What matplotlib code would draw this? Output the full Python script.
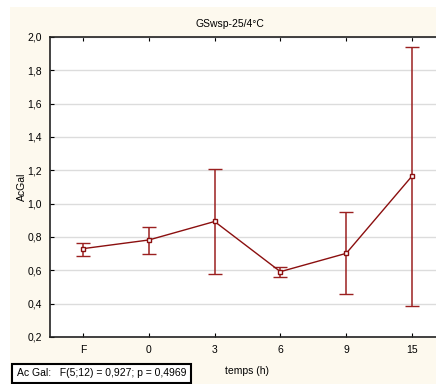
import matplotlib
matplotlib.use("Agg")
import matplotlib.pyplot as plt
from matplotlib.patches import Rectangle

plt.rcParams['font.family'] = ['Liberation Sans', 'DejaVu Sans']

# data
categories = ["F", "0", "3", "6", "9", "15"]
means = [0.730, 0.782, 0.893, 0.592, 0.702, 1.166]
lower = [0.685, 0.700, 0.577, 0.557, 0.457, 0.386]
upper = [0.763, 0.862, 1.205, 0.623, 0.947, 1.937]
y_ticks = [0.2, 0.4, 0.6, 0.8, 1.0, 1.2, 1.4, 1.6, 1.8, 2.0]

RED = "#8b0f0f"
CREAM = "#fdf9ee"

fig = plt.figure(figsize=(4.36, 3.84), dpi=100)
fig.patch.set_facecolor("white")
# cream panel behind the plot
fig.patches.append(Rectangle((10 / 436, 0), 1, (384 - 7) / 384,
                             transform=fig.transFigure, facecolor=CREAM,
                             edgecolor="none", zorder=-5))

ax = fig.add_axes([50 / 436, 47 / 384, 395 / 436, 300 / 384])
ax.set_zorder(2)
ax.set_facecolor("white")

x = list(range(len(categories)))
yerr = [[m - lo for m, lo in zip(means, lower)],
        [hi - m for m, hi in zip(means, upper)]]
ax.errorbar(x, means, yerr=yerr, color=RED, ecolor="#9b2020", elinewidth=1.1,
            capsize=4.8, capthick=1.1, lw=1.0, marker="s", markersize=3.5,
            markerfacecolor="white", markeredgecolor=RED, markeredgewidth=1.0,
            zorder=3)

ax.set_xlim(-0.5, 5.5)
ax.set_ylim(0.2, 2.0)
ax.set_xticks(x)
ax.set_xticklabels(categories)
ax.set_yticks(y_ticks)
ax.set_yticklabels([f"{v:.1f}".replace(".", ",") for v in y_ticks])
ax.yaxis.grid(True, color="#dcdcdc", lw=1.0)
ax.set_axisbelow(True)

ax.tick_params(axis="both", direction="in", length=3, width=0.8,
               labelsize=7.5, colors="black", pad=6)
ax.tick_params(axis="x", top=True)
for side in ["left", "top", "bottom"]:
    ax.spines[side].set_linewidth(1.2)
    ax.spines[side].set_color("#222222")
ax.spines["right"].set_visible(False)

fig.text(230 / 436, 1 - 24 / 384, "GSwsp-25/4°C", ha="center", va="center",
         fontsize=7.5)
fig.text(247 / 436, 1 - 371 / 384, "temps (h)", ha="center", va="center",
         fontsize=7.5)
fig.text(22 / 436, 1 - 187 / 384, "AcGal", ha="center", va="center",
         fontsize=7.5, rotation=90)
fig.text(17 / 436, 1 - 373.5 / 384, "Ac Gal:   F(5;12) = 0,927; p = 0,4969",
         ha="left", va="center", fontsize=7.5,
         bbox=dict(boxstyle="square,pad=0.45", facecolor="white",
                   edgecolor="black", linewidth=1.5))

fig.savefig("out.png", dpi=100)
